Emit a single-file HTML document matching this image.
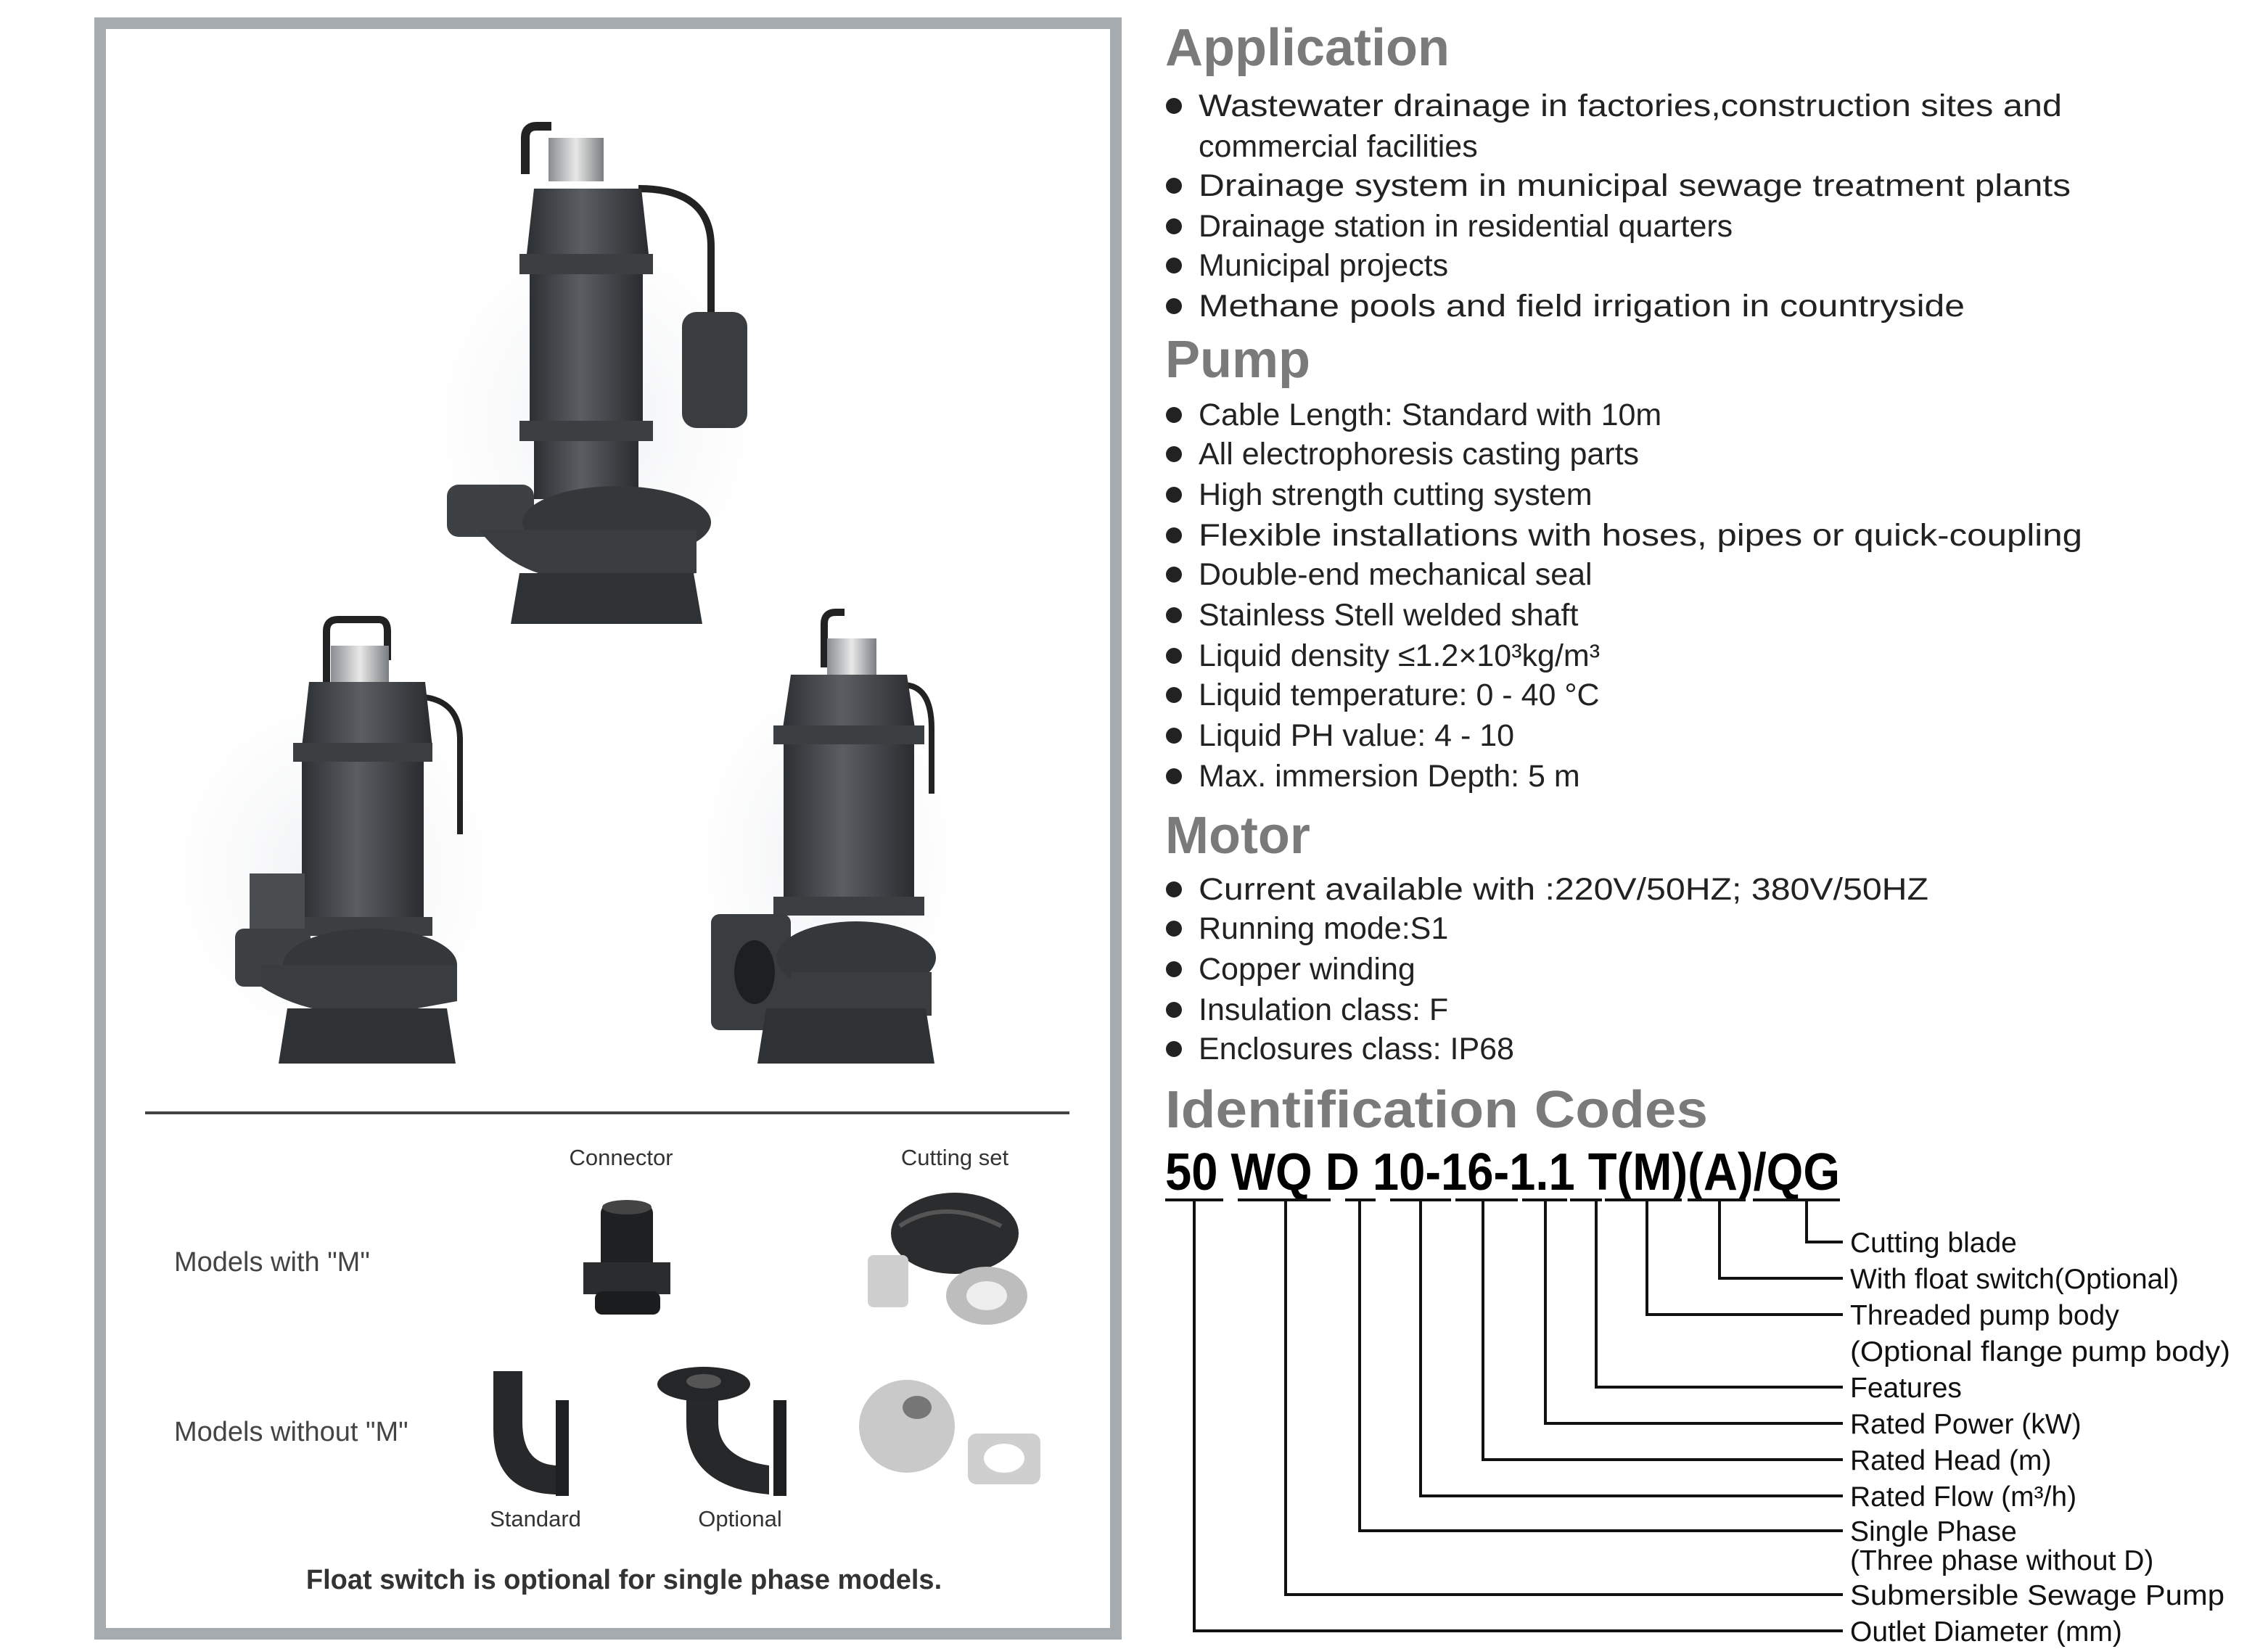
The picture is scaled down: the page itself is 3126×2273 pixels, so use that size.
<!DOCTYPE html>
<html><head><meta charset="utf-8"><style>
html,body{margin:0;padding:0;background:#fff}
svg{display:block}
text{font-family:"Liberation Sans",sans-serif}
</style></head><body>
<svg width="3126" height="2273" viewBox="0 0 1563 1136.5" xmlns="http://www.w3.org/2000/svg">
<defs>
<radialGradient id="sh" cx="50%" cy="50%" r="50%"><stop offset="0" stop-color="#eef0f2"/><stop offset="1" stop-color="#fff" stop-opacity="0"/></radialGradient>
<linearGradient id="body" x1="0" x2="1"><stop offset="0" stop-color="#2d3033"/><stop offset=".45" stop-color="#5a5e62"/><stop offset="1" stop-color="#2a2c2f"/></linearGradient>
<linearGradient id="steel" x1="0" x2="1"><stop offset="0" stop-color="#8a8d90"/><stop offset=".5" stop-color="#e8e8e8"/><stop offset="1" stop-color="#7a7d80"/></linearGradient>
</defs>
<!-- frame -->
<rect x="69" y="16" width="700" height="1110" fill="none" stroke="#a6abb0" stroke-width="8"/>
<!-- shadows -->
<ellipse cx="410" cy="290" rx="150" ry="170" fill="url(#sh)"/>
<ellipse cx="230" cy="600" rx="150" ry="160" fill="url(#sh)"/>
<ellipse cx="570" cy="590" rx="120" ry="160" fill="url(#sh)"/>

<!-- pump 1 -->
<g>
<path d="M362 120 v-25 q0-8 8-8 h10" fill="none" stroke="#222" stroke-width="6"/>
<rect x="378" y="95" width="38" height="30" fill="url(#steel)"/>
<path d="M440 130 q50 0 50 40 v50" fill="none" stroke="#222" stroke-width="5"/>
<rect x="470" y="215" width="45" height="80" rx="10" fill="#3a3d40"/>
<path d="M368 130 h74 l5 45 h-84z" fill="url(#body)"/>
<rect x="358" y="175" width="92" height="14" fill="#3c3f42"/>
<rect x="365" y="189" width="78" height="105" fill="url(#body)"/>
<rect x="358" y="290" width="92" height="14" fill="#3c3f42"/>
<rect x="368" y="304" width="72" height="40" fill="url(#body)"/>
<rect x="308" y="334" width="60" height="36" rx="8" fill="#3e4144"/>
<ellipse cx="425" cy="360" rx="65" ry="25" fill="#35383b"/>
<path d="M330 365 q30 40 90 35 l60 -5 v-30 h-150z" fill="#3a3d40"/>
<path d="M358 395 h120 l6 35 h-132z" fill="#2f3235"/>
</g>
<!-- pump 2 -->
<g>
<path d="M225 470 v-35 q0-8 8-8 h28 q6 0 6 8 v20" fill="none" stroke="#222" stroke-width="5"/>
<rect x="228" y="445" width="40" height="28" fill="url(#steel)"/>
<path d="M285 480 q32 0 32 30 v65" fill="none" stroke="#222" stroke-width="4"/>
<path d="M213 470 h80 l5 45 h-90z" fill="url(#body)"/>
<rect x="202" y="512" width="96" height="13" fill="#3c3f42"/>
<rect x="208" y="525" width="84" height="110" fill="url(#body)"/>
<rect x="202" y="632" width="96" height="13" fill="#3c3f42"/>
<rect x="172" y="602" width="38" height="45" fill="#4a4d50"/>
<rect x="162" y="640" width="52" height="40" rx="6" fill="#3e4144"/>
<ellipse cx="255" cy="665" rx="60" ry="25" fill="#35383b"/>
<path d="M180 680 q30 20 80 20 l55 -10 v-25 h-135z" fill="#3a3d40"/>
<path d="M198 695 h110 l6 38 h-122z" fill="#2f3235"/>
</g>
<!-- pump 3 -->
<g>
<path d="M568 460 v-30 q0-8 8-8 h6" fill="none" stroke="#222" stroke-width="5"/>
<rect x="570" y="440" width="34" height="28" fill="url(#steel)"/>
<path d="M622 472 q20 0 20 30 v45" fill="none" stroke="#222" stroke-width="4"/>
<path d="M545 465 h80 l6 40 h-92z" fill="url(#body)"/>
<rect x="533" y="500" width="104" height="13" fill="#3c3f42"/>
<rect x="540" y="513" width="90" height="110" fill="url(#body)"/>
<rect x="533" y="618" width="104" height="13" fill="#3c3f42"/>
<rect x="490" y="630" width="55" height="80" rx="6" fill="#3a3d40"/>
<ellipse cx="520" cy="670" rx="14" ry="22" fill="#1d1f21"/>
<ellipse cx="590" cy="660" rx="55" ry="25" fill="#35383b"/>
<path d="M545 670 h97 v30 h-97z" fill="#3a3d40"/>
<path d="M528 695 h110 l6 38 h-122z" fill="#2f3235"/>
</g>

<line x1="100" y1="767" x2="737" y2="767" stroke="#444" stroke-width="2"/>
<g font-size="15.5" fill="#333" text-anchor="middle">
<text x="428" y="803">Connector</text>
<text x="658" y="803">Cutting set</text>
<text x="369" y="1052">Standard</text>
<text x="510" y="1052">Optional</text>
</g>
<text x="120" y="876" font-size="19" fill="#444">Models with "M"</text>
<text x="120" y="993" font-size="19" fill="#444">Models without "M"</text>
<text x="430" y="1095" font-size="19" fill="#333" font-weight="bold" text-anchor="middle">Float switch is optional for single phase models.</text>
<!-- connector -->
<rect x="414" y="830" width="36" height="52" rx="6" fill="#1e2022"/>
<ellipse cx="432" cy="832" rx="17" ry="5" fill="#444"/>
<path d="M402 870 h60 v22 h-60z" fill="#2a2c2e"/>
<rect x="410" y="890" width="45" height="16" rx="5" fill="#1b1c1d"/>
<!-- cutting set -->
<ellipse cx="658" cy="850" rx="44" ry="28" fill="#2a2c2e"/>
<path d="M620 845 q30 -20 70 0" fill="none" stroke="#555" stroke-width="3"/>
<rect x="598" y="865" width="28" height="36" rx="4" fill="#cfcfcf"/>
<ellipse cx="680" cy="893" rx="28" ry="20" fill="#bdbdbd"/>
<ellipse cx="680" cy="893" rx="14" ry="10" fill="#eee"/>
<!-- elbows -->
<path d="M340 945 h20 v35 q0 30 25 30 v20 q-45 0 -45 -45z" fill="#26282a"/>
<rect x="383" y="965" width="9" height="66" fill="#1d1f21"/>
<ellipse cx="485" cy="954" rx="32" ry="12" fill="#242628"/>
<ellipse cx="485" cy="952" rx="12" ry="5" fill="#555"/>
<path d="M473 965 h22 v15 q0 25 35 30 v20 q-57 -5 -57 -50z" fill="#26282a"/>
<rect x="533" y="965" width="9" height="66" fill="#1d1f21"/>
<!-- impeller -->
<ellipse cx="625" cy="983" rx="33" ry="32" fill="#c9c9c9"/>
<ellipse cx="632" cy="970" rx="10" ry="8" fill="#777"/>
<rect x="667" y="988" width="50" height="35" rx="6" fill="#cfcfcf"/>
<ellipse cx="692" cy="1005" rx="14" ry="10" fill="#fff"/>

<!-- right text -->
<g fill="#7a7a7a" font-size="36" font-weight="bold">
<text x="803" y="45">Application</text>
<text x="803" y="260">Pump</text>
<text x="803" y="588">Motor</text>
<text x="803" y="777" textLength="374" lengthAdjust="spacingAndGlyphs">Identification Codes</text>
</g>
<g fill="#222" font-size="21.5">
<g fill="#222">
<circle cx="809" cy="73" r="5.5"/><circle cx="809" cy="128" r="5.5"/><circle cx="809" cy="156" r="5.5"/><circle cx="809" cy="183" r="5.5"/><circle cx="809" cy="211" r="5.5"/>
<circle cx="809" cy="286" r="5.5"/><circle cx="809" cy="313" r="5.5"/><circle cx="809" cy="341" r="5.5"/><circle cx="809" cy="369" r="5.5"/><circle cx="809" cy="396" r="5.5"/><circle cx="809" cy="424" r="5.5"/><circle cx="809" cy="452" r="5.5"/><circle cx="809" cy="479" r="5.5"/><circle cx="809" cy="507" r="5.5"/><circle cx="809" cy="535" r="5.5"/>
<circle cx="809" cy="613" r="5.5"/><circle cx="809" cy="640" r="5.5"/><circle cx="809" cy="668" r="5.5"/><circle cx="809" cy="696" r="5.5"/><circle cx="809" cy="723" r="5.5"/>
</g>
<text x="826" y="80" textLength="595" lengthAdjust="spacingAndGlyphs">Wastewater drainage in factories,construction sites and</text>
<text x="826" y="108">commercial facilities</text>
<text x="826" y="135" textLength="601" lengthAdjust="spacingAndGlyphs">Drainage system in municipal sewage treatment plants</text>
<text x="826" y="163">Drainage station in residential quarters</text>
<text x="826" y="190">Municipal projects</text>
<text x="826" y="218" textLength="528" lengthAdjust="spacingAndGlyphs">Methane pools and field irrigation in countryside</text>
<text x="826" y="293">Cable Length: Standard with 10m</text>
<text x="826" y="320">All electrophoresis casting parts</text>
<text x="826" y="348">High strength cutting system</text>
<text x="826" y="376" textLength="609" lengthAdjust="spacingAndGlyphs">Flexible installations with hoses, pipes or quick-coupling</text>
<text x="826" y="403">Double-end mechanical seal</text>
<text x="826" y="431">Stainless Stell welded shaft</text>
<text x="826" y="459">Liquid density ≤1.2×10³kg/m³</text>
<text x="826" y="486">Liquid temperature: 0 - 40 °C</text>
<text x="826" y="514">Liquid PH value: 4 - 10</text>
<text x="826" y="542">Max. immersion Depth: 5 m</text>
<text x="826" y="620" textLength="503" lengthAdjust="spacingAndGlyphs">Current available with :220V/50HZ; 380V/50HZ</text>
<text x="826" y="647">Running mode:S1</text>
<text x="826" y="675">Copper winding</text>
<text x="826" y="703">Insulation class: F</text>
<text x="826" y="730">Enclosures class: IP68</text>
</g>
<text x="803" y="820" font-size="36" font-weight="bold" fill="#000" textLength="465" lengthAdjust="spacingAndGlyphs">50 WQ D 10-16-1.1 T(M)(A)/QG</text>
<g stroke="#111" stroke-width="2" fill="none">
<path d="M803 827h40M853 827h64M927 827h21M958 827h42M1003 827h43M1049 827h31M1082 827h22M1106 827h53M1163 827h40M1208 827h60"/>
<path d="M1245 827v29h25M1185 827v54h85M1135 827v79h135M1100 827v129h170M1065 827v154h205M1022 827v179h248M979 827v204h291M937 827v228h333M886 827v272h384M823 827v297h447"/>
</g>
<g fill="#111" font-size="19.5">
<text x="1275" y="863">Cutting blade</text>
<text x="1275" y="888">With float switch(Optional)</text>
<text x="1275" y="913">Threaded pump body</text>
<text x="1275" y="938" textLength="262" lengthAdjust="spacingAndGlyphs">(Optional flange pump body)</text>
<text x="1275" y="963">Features</text>
<text x="1275" y="988">Rated Power (kW)</text>
<text x="1275" y="1013">Rated Head (m)</text>
<text x="1275" y="1038">Rated Flow (m³/h)</text>
<text x="1275" y="1062">Single Phase</text>
<text x="1275" y="1082">(Three phase without D)</text>
<text x="1275" y="1106" textLength="258" lengthAdjust="spacingAndGlyphs">Submersible Sewage Pump</text>
<text x="1275" y="1131">Outlet Diameter (mm)</text>
</g>
</svg>
</body></html>
